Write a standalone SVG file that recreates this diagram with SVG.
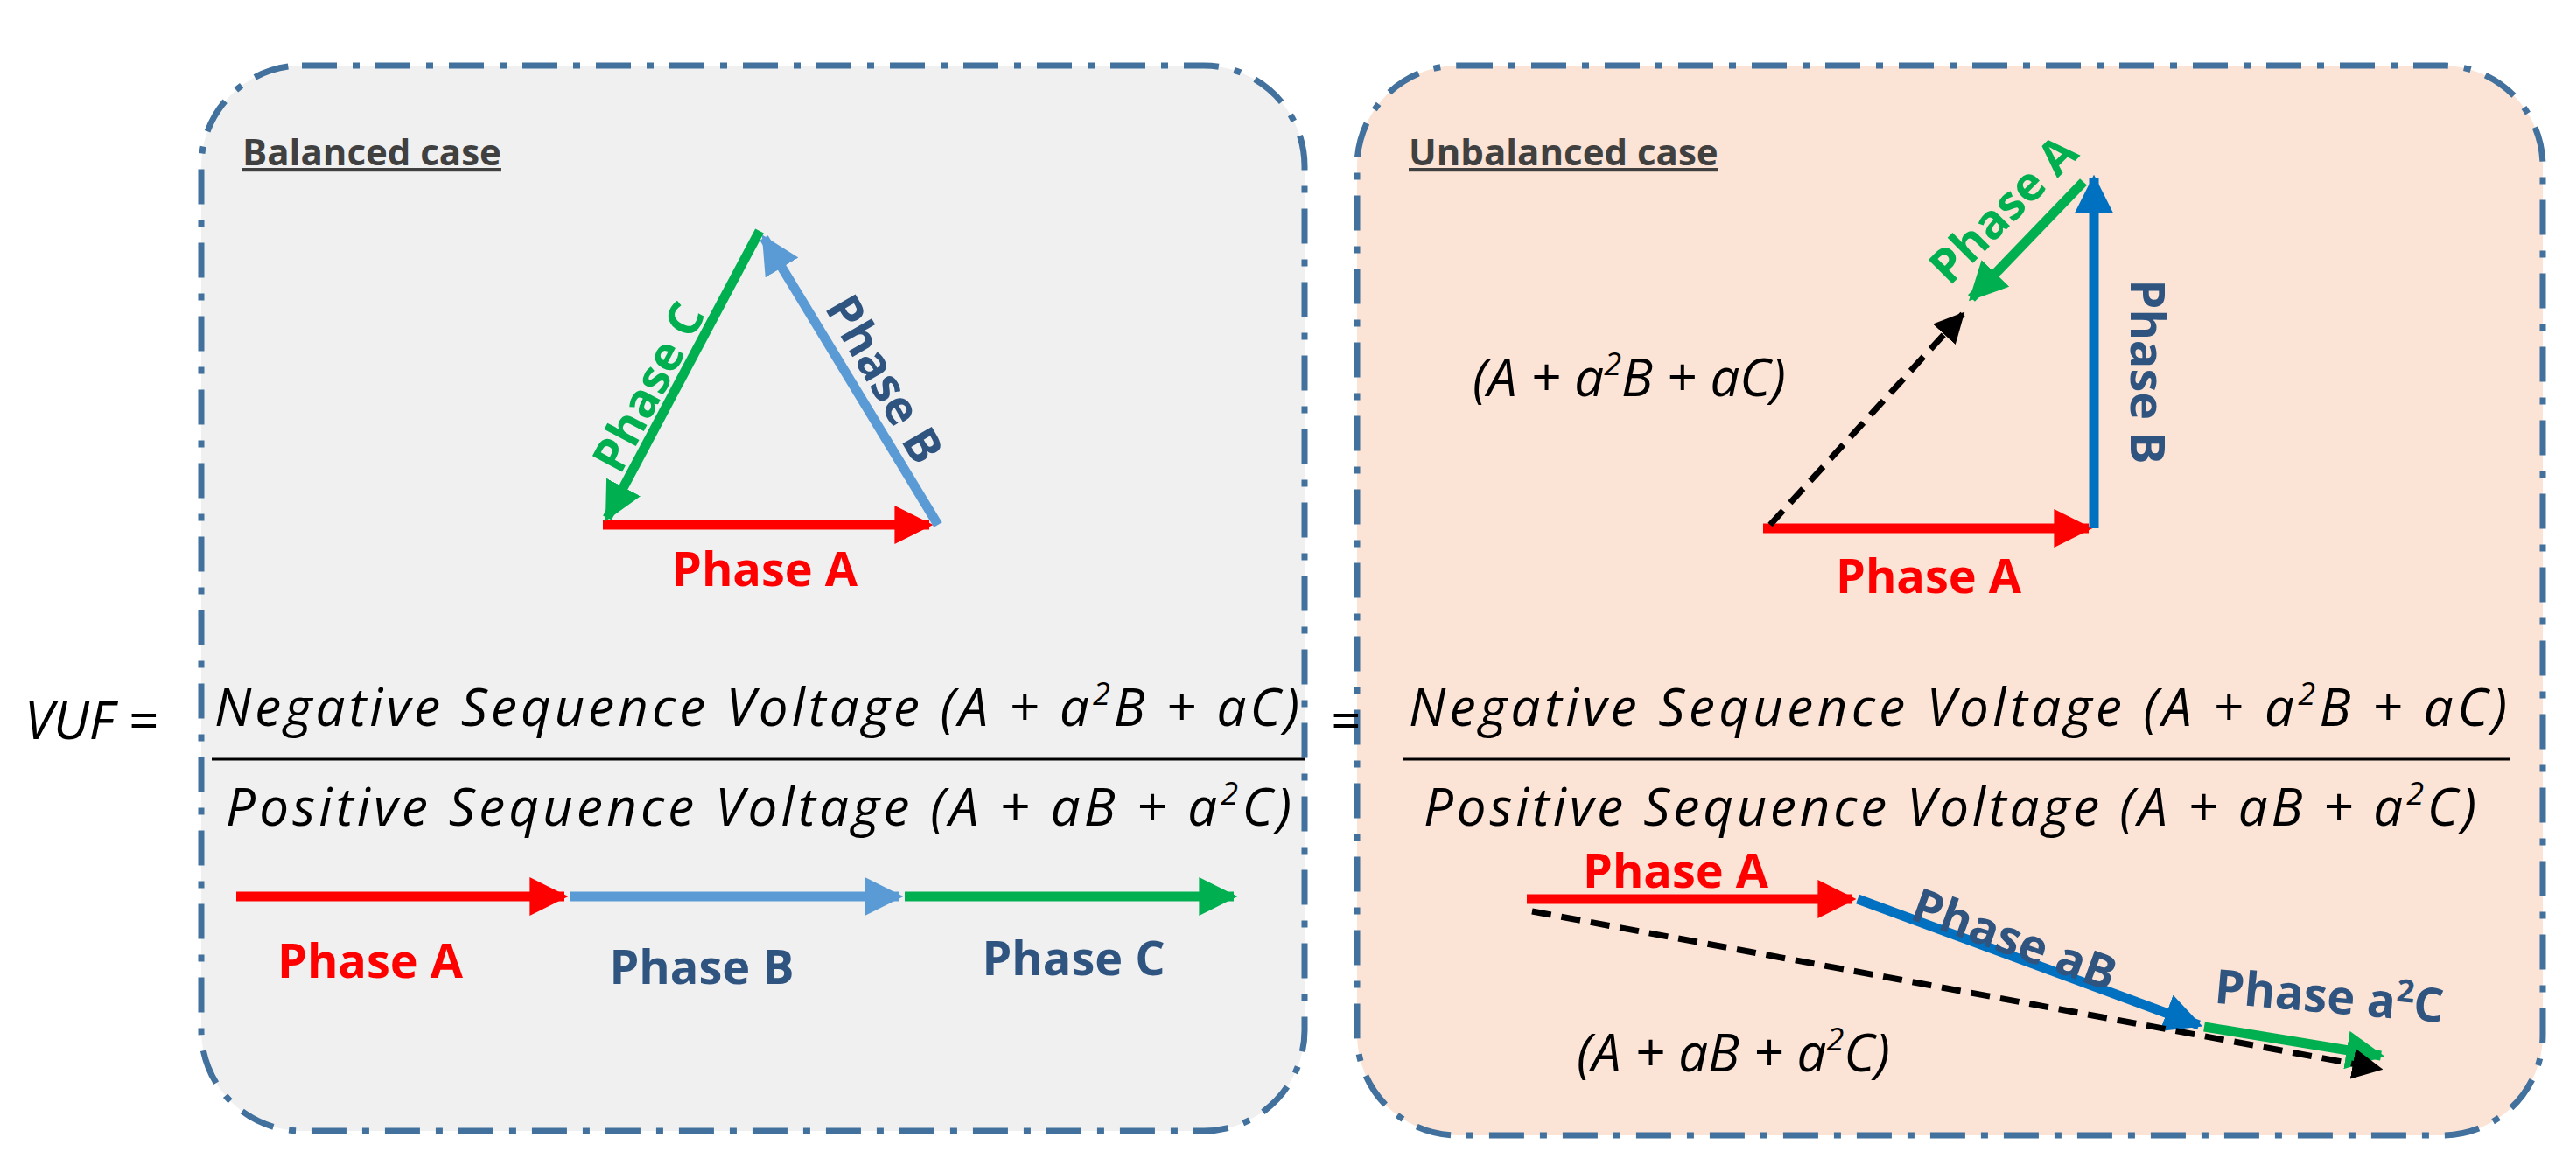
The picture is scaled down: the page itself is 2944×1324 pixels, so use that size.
<svg xmlns="http://www.w3.org/2000/svg" width="2944" height="1324" viewBox="0 0 2944 1324">
<style>
.box{stroke:#41719c;stroke-width:7;stroke-dasharray:40 18 8 18}
.lbl{font-family:"Open Sans","Liberation Sans",sans-serif;font-weight:bold;font-size:54px;text-anchor:middle}
.hdr{font-family:"Open Sans","Liberation Sans",sans-serif;font-weight:bold;font-size:42px;fill:#404040;text-decoration:underline}
.m{font-family:"Open Sans","Liberation Sans",sans-serif;font-style:italic;font-size:60px;fill:#000}
.v{stroke-width:11;fill:none}
</style>
<defs>
<marker id="hr" viewBox="0 0 10 10" refX="9" refY="5" markerWidth="4" markerHeight="4" orient="auto" markerUnits="strokeWidth"><path d="M0,0L10,5L0,10z" fill="#ff0000"/></marker>
<marker id="hb" viewBox="0 0 10 10" refX="9" refY="5" markerWidth="4" markerHeight="4" orient="auto" markerUnits="strokeWidth"><path d="M0,0L10,5L0,10z" fill="#5b9bd5"/></marker>
<marker id="hd" viewBox="0 0 10 10" refX="9" refY="5" markerWidth="4" markerHeight="4" orient="auto" markerUnits="strokeWidth"><path d="M0,0L10,5L0,10z" fill="#0070c0"/></marker>
<marker id="hg" viewBox="0 0 10 10" refX="9" refY="5" markerWidth="4" markerHeight="4" orient="auto" markerUnits="strokeWidth"><path d="M0,0L10,5L0,10z" fill="#00b050"/></marker>
<marker id="hk" viewBox="0 0 10 10" refX="9" refY="5" markerWidth="5" markerHeight="5" orient="auto" markerUnits="strokeWidth"><path d="M0,0L10,5L0,10z" fill="#000"/></marker>
</defs>
<rect width="2944" height="1324" fill="#fff"/>
<g id="balanced">
<rect class="box" x="230" y="75" width="1261" height="1218" rx="115" fill="#f0f0f0"/>
<text class="hdr" x="277" y="189">Balanced case</text>
</g>
<g id="unbalanced">
<rect class="box" x="1551" y="75" width="1355" height="1223" rx="115" fill="#fbe3d5"/>
<text class="hdr" x="1610" y="189">Unbalanced case</text>
</g>
<g id="connectors">
<line class="v" x1="689" y1="600" x2="1062" y2="600" stroke="#ff0000" marker-end="url(#hr)"/>
<line class="v" x1="1072" y1="600" x2="873" y2="272" stroke="#5b9bd5" marker-end="url(#hb)"/>
<line class="v" x1="868" y1="264" x2="694" y2="592" stroke="#00b050" marker-end="url(#hg)"/>
<line class="v" x1="270" y1="1025" x2="645" y2="1025" stroke="#ff0000" marker-end="url(#hr)"/>
<line class="v" x1="651" y1="1025" x2="1028" y2="1025" stroke="#5b9bd5" marker-end="url(#hb)"/>
<line class="v" x1="1034" y1="1025" x2="1410" y2="1025" stroke="#00b050" marker-end="url(#hg)"/>
<line class="v" x1="2015" y1="604" x2="2387" y2="604" stroke="#ff0000" marker-end="url(#hr)"/>
<line class="v" x1="2393" y1="604" x2="2393" y2="204" stroke="#0070c0" marker-end="url(#hd)"/>
<line class="v" x1="2381" y1="208" x2="2253" y2="341" stroke="#00b050" marker-end="url(#hg)"/>
<line x1="2023" y1="600" x2="2243" y2="359" stroke="#000" stroke-width="7" stroke-dasharray="22 12" marker-end="url(#hk)"/>
<line class="v" x1="1745" y1="1028" x2="2117" y2="1028" stroke="#ff0000" marker-end="url(#hr)"/>
<line class="v" x1="2123" y1="1028" x2="2513" y2="1172" stroke="#0070c0" marker-end="url(#hd)"/>
<line class="v" x1="2519" y1="1174" x2="2721" y2="1207" stroke="#00b050" marker-end="url(#hg)"/>
<line x1="1751" y1="1042" x2="2720" y2="1222" stroke="#000" stroke-width="7" stroke-dasharray="22 12" marker-end="url(#hk)"/>
</g>
<g id="labels">
<text class="lbl" x="874" y="670" fill="#ff0000">Phase A</text>
<text class="lbl" x="0" y="18" fill="#00b050" transform="translate(742,443) rotate(-62)">Phase C</text>
<text class="lbl" x="0" y="18" fill="#2f5480" transform="translate(1010,434) rotate(60)">Phase B</text>
<text class="lbl" x="423" y="1118" fill="#ff0000">Phase A</text>
<text class="lbl" x="802" y="1125" fill="#2f5480">Phase B</text>
<text class="lbl" x="1227" y="1115" fill="#2f5480">Phase C</text>
<text class="lbl" x="2204" y="678" fill="#ff0000">Phase A</text>
<text class="lbl" x="0" y="18" fill="#2f5480" transform="translate(2453,425) rotate(90)">Phase B</text>
<text class="lbl" x="0" y="18" fill="#00b050" transform="translate(2290,240) rotate(-45)">Phase A</text>
<text class="lbl" x="1915" y="1015" fill="#ff0000">Phase A</text>
<text class="lbl" x="0" y="18" fill="#2f5480" transform="translate(2302,1075) rotate(20)">Phase aB</text>
<text class="lbl" x="0" y="18" fill="#2f5480" transform="translate(2662,1140) rotate(5)">Phase a<tspan font-size="36" dy="-20">2</tspan><tspan dy="20">C</tspan></text>
</g>
<g id="formula">
<text class="m" x="28" y="845" font-size="66">VUF =</text>
<text class="m" x="245" y="830" textLength="1240">Negative Sequence Voltage (A + a<tspan font-size="36" dy="-24">2</tspan><tspan dy="24">B + aC)</tspan></text>
<line x1="242" y1="868" x2="1491" y2="868" stroke="#000" stroke-width="3"/>
<text class="m" x="258" y="944" textLength="1218">Positive Sequence Voltage (A + aB + a<tspan font-size="36" dy="-24">2</tspan><tspan dy="24">C)</tspan></text>
<text class="m" x="1520" y="845" font-size="66">=</text>
<text class="m" x="1610" y="830" textLength="1255">Negative Sequence Voltage (A + a<tspan font-size="36" dy="-24">2</tspan><tspan dy="24">B + aC)</tspan></text>
<line x1="1604" y1="868" x2="2868" y2="868" stroke="#000" stroke-width="3"/>
<text class="m" x="1627" y="944" textLength="1203">Positive Sequence Voltage (A + aB + a<tspan font-size="36" dy="-24">2</tspan><tspan dy="24">C)</tspan></text>
<text class="m" x="1683" y="453">(A + a<tspan font-size="36" dy="-24">2</tspan><tspan dy="24">B + aC)</tspan></text>
<text class="m" x="1802" y="1225">(A + aB + a<tspan font-size="36" dy="-24">2</tspan><tspan dy="24">C)</tspan></text>
</g>
</svg>
